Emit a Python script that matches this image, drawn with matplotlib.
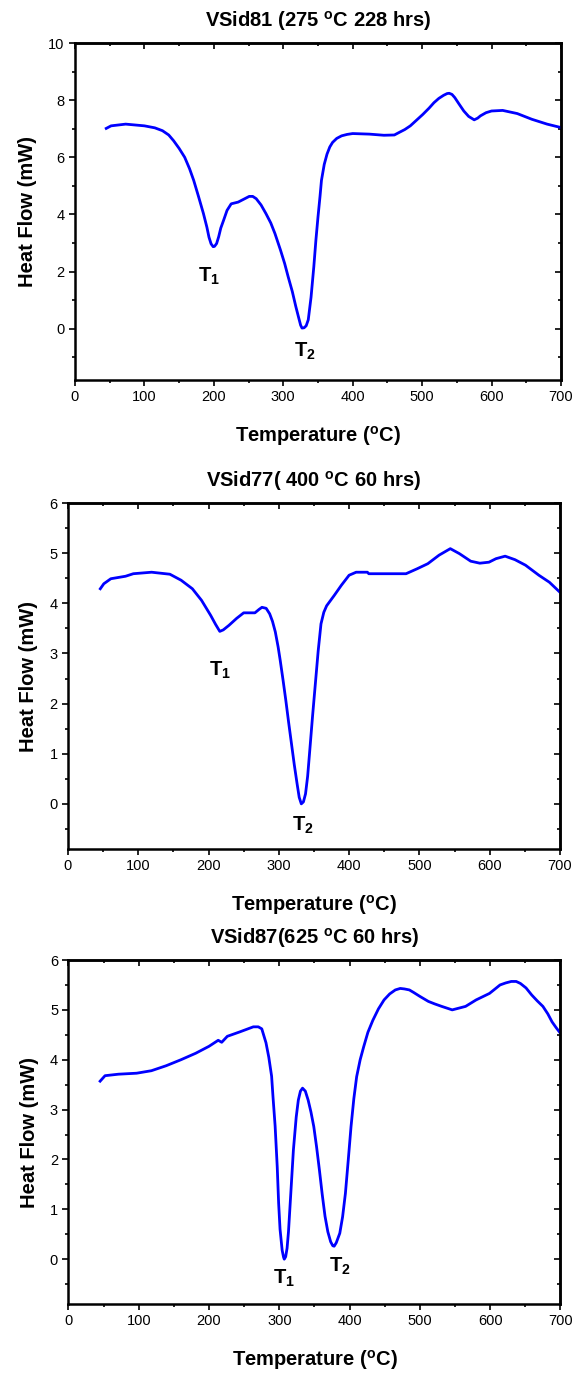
import matplotlib
matplotlib.use("Agg")
import matplotlib.pyplot as plt
from matplotlib.ticker import MultipleLocator

plt.rcParams["font.family"] = ["Liberation Sans", "DejaVu Sans"]
plt.rcParams["mathtext.fontset"] = "custom"
plt.rcParams["mathtext.rm"] = "Liberation Sans"
plt.rcParams["mathtext.bf"] = "Liberation Sans:bold"

# ── Data ───────────────────────────────────────────────────────────────────────

temp_81 = [45, 52, 73, 100, 115, 126, 135, 142, 150, 158, 165, 171, 178, 185, 190, 193,
           196, 199, 201, 204, 207, 210, 214, 219, 225, 235, 243, 251, 256, 261, 268,
           275, 282, 288, 296, 302, 307, 313, 318, 322, 325, 327, 330, 333, 336, 340,
           344, 347, 350, 353, 355, 359, 363, 367, 371, 377, 384, 392, 400, 424, 445,
           460, 467, 475, 483, 492, 501, 510, 517, 524, 531, 536, 539, 543, 547, 553,
           560, 567, 575, 580, 584, 592, 600, 616, 637, 658, 680, 700]
heat_81 = [7.01, 7.10, 7.16, 7.10, 7.03, 6.93, 6.78, 6.58, 6.31, 6.00, 5.60, 5.19, 4.62,
           4.03, 3.55, 3.20, 2.97, 2.87, 2.88, 2.98, 3.22, 3.52, 3.79, 4.14, 4.37, 4.43,
           4.53, 4.63, 4.63, 4.55, 4.33, 4.03, 3.70, 3.33, 2.75, 2.28, 1.82, 1.30, 0.78,
           0.40, 0.12, 0.02, 0.03, 0.10, 0.31, 1.10, 2.17, 3.10, 3.91, 4.65, 5.19, 5.75,
           6.11, 6.36, 6.52, 6.66, 6.75, 6.80, 6.83, 6.81, 6.77, 6.78, 6.87, 6.97, 7.10,
           7.30, 7.50, 7.72, 7.91, 8.06, 8.17, 8.23, 8.24, 8.20, 8.09, 7.87, 7.62, 7.43,
           7.31, 7.37, 7.45, 7.56, 7.62, 7.64, 7.53, 7.33, 7.16, 7.04]

temp_77 = [46, 51, 61, 82, 93, 119, 145, 161, 177, 190, 203, 210, 216, 221, 229, 240,
           250, 266, 272, 276, 282, 287, 291, 295, 299, 302, 306, 310, 314, 318, 322,
           326, 329, 332, 335, 338, 341, 344, 348, 352, 356, 360, 364, 368, 379, 389,
           400, 410, 426, 428, 481, 497, 512, 528, 544, 557, 573, 586, 599, 609, 622,
           636, 651, 670, 685, 700]
heat_77 = [4.29, 4.39, 4.49, 4.54, 4.59, 4.62, 4.58, 4.46, 4.29, 4.06, 3.76, 3.58, 3.44,
           3.47, 3.56, 3.70, 3.81, 3.81, 3.88, 3.92, 3.90, 3.79, 3.64, 3.43, 3.13, 2.86,
           2.47, 2.06, 1.62, 1.20, 0.78, 0.40, 0.13, 0.00, 0.04, 0.20, 0.55, 1.06, 1.75,
           2.40, 3.05, 3.59, 3.82, 3.95, 4.16, 4.36, 4.56, 4.62, 4.62, 4.59, 4.59, 4.69,
           4.79, 4.96, 5.09, 4.99, 4.84, 4.80, 4.82, 4.89, 4.94, 4.87, 4.76, 4.56, 4.42,
           4.22]

temp_87 = [45, 52, 71, 97, 118, 139, 160, 181, 200, 213, 218, 226, 244, 263, 270, 275,
           281, 285, 289, 291, 294, 297, 299, 301, 304, 306, 307, 309, 311, 313, 316,
           320, 324, 327, 330, 333, 337, 341, 345, 349, 353, 357, 361, 365, 369, 373,
           376, 378, 381, 386, 390, 394, 398, 402, 406, 410, 415, 420, 426, 433, 441,
           449, 457, 465, 472, 478, 485, 491, 500, 512, 521, 531, 546, 565, 580, 599,
           607, 614, 622, 630, 637, 643, 651, 659, 667, 675, 682, 688, 694, 700]
heat_87 = [3.57, 3.68, 3.71, 3.73, 3.78, 3.88, 4.00, 4.13, 4.27, 4.39, 4.35, 4.47, 4.56,
           4.66, 4.66, 4.62, 4.34, 4.05, 3.67, 3.25, 2.67, 1.85, 1.12, 0.60, 0.18, 0.04,
           0.00, 0.05, 0.22, 0.55, 1.25, 2.19, 2.85, 3.19, 3.37, 3.43, 3.37, 3.19, 2.95,
           2.66, 2.25, 1.79, 1.30, 0.86, 0.55, 0.35, 0.27, 0.26, 0.33, 0.52, 0.85, 1.32,
           1.98, 2.66, 3.22, 3.66, 4.00, 4.26, 4.55, 4.79, 5.02, 5.20, 5.32, 5.40, 5.43,
           5.42, 5.40, 5.35, 5.27, 5.17, 5.12, 5.07, 5.00, 5.07, 5.20, 5.33, 5.42, 5.50,
           5.54, 5.57, 5.57, 5.53, 5.44, 5.30, 5.18, 5.07, 4.92, 4.76, 4.64, 4.53]

titles = [r"VSid81 (275 $^{\mathbf{o}}$C 228 hrs)",
          r"VSid77( 400 $^{\mathbf{o}}$C 60 hrs)",
          r"VSid87(625 $^{\mathbf{o}}$C 60 hrs)"]

# peak labels: (x, y) in data coords
peaks_81 = [(193, 1.82), (331, -0.79)]
peaks_77 = [(216, 2.67), (334, -0.43)]
peaks_87 = [(307, -0.38), (386, -0.15)]


# ── One DSC panel ──────────────────────────────────────────────────────────────

def draw_panel(fig, rect, temp, heat, title, peaks, ylim, ymajor, yminor):
    ax = fig.add_axes(rect)
    ax.plot(temp, heat, color="#0000ff", linewidth=2.0, solid_joinstyle="round")

    ax.set_xlim(0, 700)
    ax.set_ylim(*ylim)
    ax.xaxis.set_major_locator(MultipleLocator(100))
    ax.xaxis.set_minor_locator(MultipleLocator(50))
    ax.yaxis.set_major_locator(MultipleLocator(ymajor))
    ax.yaxis.set_minor_locator(MultipleLocator(yminor))
    ax.tick_params(which="both", direction="out", labelsize=10.5, width=1.2)
    ax.tick_params(which="major", length=4)
    ax.tick_params(which="minor", length=2.5)
    for s in ax.spines.values():
        s.set_linewidth(1.8)

    # mirrored ticks pointing inwards on top/right
    top = ax.secondary_xaxis("top")
    top.xaxis.set_major_locator(MultipleLocator(100))
    top.xaxis.set_minor_locator(MultipleLocator(50))
    top.tick_params(which="both", direction="in", labeltop=False, width=1.2)
    top.tick_params(which="major", length=4)
    top.tick_params(which="minor", length=2.5)
    right = ax.secondary_yaxis("right")
    right.yaxis.set_major_locator(MultipleLocator(ymajor))
    right.yaxis.set_minor_locator(MultipleLocator(yminor))
    right.tick_params(which="both", direction="in", labelright=False, width=1.2)
    right.tick_params(which="major", length=4)
    right.tick_params(which="minor", length=2.5)
    for sec in (top, right):
        for s in sec.spines.values():
            s.set_linewidth(1.8)

    ax.set_title(title, fontsize=14.5, fontweight="bold", pad=12)
    ax.set_xlabel(r"Temperature ($^{\mathbf{o}}$C)", fontsize=14.5, fontweight="bold", labelpad=14)
    ax.set_ylabel("Heat Flow (mW)", fontsize=14.5, fontweight="bold", labelpad=8)

    for i, (px, py) in enumerate(peaks, start=1):
        ax.text(px, py, r"T$_\mathbf{%d}$" % i, fontsize=14.5, fontweight="bold",
                ha="center", va="center")
    return ax


fig = plt.figure(figsize=(5.79, 13.74), dpi=100)

draw_panel(fig, [0.1295, 0.7234, 0.8394, 0.2453], temp_81, heat_81, titles[0],
           peaks_81, (-1.8, 10), 2, 1)
draw_panel(fig, [0.1174, 0.3821, 0.8497, 0.2518], temp_77, heat_77, titles[1],
           peaks_77, (-0.9, 6), 1, 0.5)
draw_panel(fig, [0.1183, 0.0509, 0.8497, 0.2504], temp_87, heat_87, titles[2],
           peaks_87, (-0.9, 6), 1, 0.5)

fig.savefig("out.png", dpi=100)
